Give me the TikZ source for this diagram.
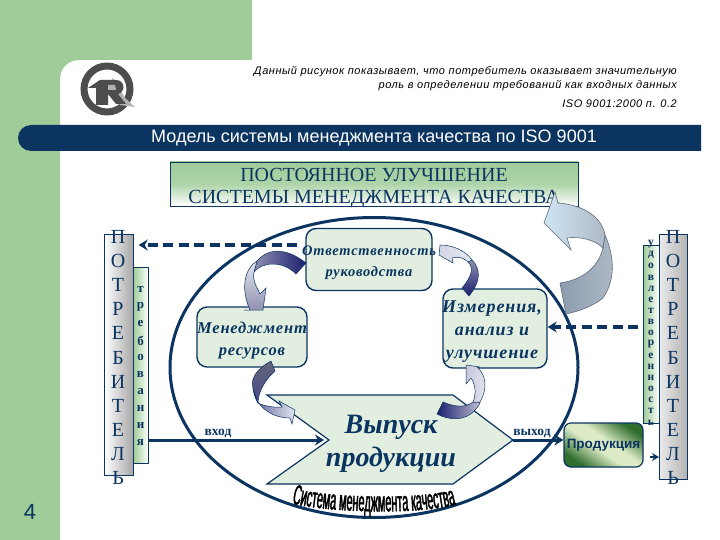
\documentclass[tikz,border=0pt]{standalone}
\usepackage{fontspec}
\usepackage{xcolor}
\usepackage{tikz}
\usetikzlibrary{calc,arrows.meta,positioning,decorations.text}
\setmainfont{Liberation Serif}
\newfontfamily\arialx{Liberation Sans}
\newfontfamily\notex[LetterSpace=5]{Liberation Sans}
\newfontfamily\widex[LetterSpace=5]{Liberation Serif}
\newfontfamily\wordx[FakeStretch=0.39,FakeBold=1.5]{Liberation Sans}
\definecolor{greenx}{HTML}{A0CC9A}
\definecolor{navyx}{HTML}{0B3560}
\definecolor{boxx}{HTML}{E2EEDF}
\definecolor{logox}{HTML}{4D4D4D}
\definecolor{deepx}{HTML}{1A1F6E}
\definecolor{midx}{HTML}{9090B0}
\definecolor{palex}{HTML}{E4E8F2}
\definecolor{skyx}{HTML}{CFE4F4}
\definecolor{steelx}{HTML}{8C9CAE}
\definecolor{prodx}{HTML}{2F6E2C}
\definecolor{prodl}{HTML}{DCEAC6}
\pgfdeclarehorizontalshading{prodsh}{100bp}{color(0bp)=(prodx); color(25bp)=(prodx); color(45bp)=(prodl); color(55bp)=(prodl); color(75bp)=(prodx); color(100bp)=(prodx)}
\tikzset{
  ar/.style={-{Stealth[length=9pt,width=11pt]},line width=3pt,navyx},
  dashar/.style={ar,line width=3.5pt,dash pattern=on 10pt off 5.5pt},
  box/.style={draw=navyx,line width=1.4pt,rounded corners=10pt,fill=boxx,inner sep=0pt},
  boxtext/.style={align=center,text=navyx,inner sep=0pt},
  col/.style={draw=navyx,line width=.7pt,inner sep=0pt,anchor=north west},
  rib/.style={draw=navyx,line width=.5pt},
  bigrib/.style={draw=steelx!70!black,line width=.6pt},
  letter/.style={text=navyx,inner sep=0pt}
}
\begin{document}
\begin{tikzpicture}[x=1pt,y=-1pt]
\useasboundingbox (0,0) rectangle (720,540);
\fill[white] (0,0) rectangle (720,540);
\fill[greenx] (0,0) -- (252,0) -- (252,60) -- (80,60) .. controls (68,60) and (60,68) .. (60,80) -- (60,540) -- (0,540) -- cycle;
\fill[navyx,rounded corners=13pt] (701,125) -- (18,125) -- (18,151) [sharp corners] -- (701,151) -- cycle;
\draw[logox,line width=7pt] (107,89) circle (23);
\fill[black!30] (113,78) -- (125,98) -- (135,107) -- (120,105) -- (107,87) -- cycle;
\fill[logox] (88,88) -- (100,80) -- (116,80) .. controls (125,80) and (126,92) .. (118,94) -- (126,104) -- (116,104) -- (108,94) -- (108,105) -- (96,105) -- (96,88) -- cycle;
\fill[black!30] (108,85) -- (115,85) -- (116,90) -- (108,90) -- cycle;
\node[font=\notex\fontsize{11}{14}\selectfont\itshape,align=right,anchor=north east,inner sep=0pt] (note) at (677,66) {Данный рисунок показывает, что потребитель оказывает значительную\\роль в определении требований как входных данных};
\node[font=\notex\fontsize{11}{14}\selectfont\itshape,inner sep=0pt,anchor=north east] (isoref) at (677,100) {ISO 9001:2000 п. 0.2};
\node[font=\arialx\fontsize{18}{20}\selectfont,text=white,inner sep=0pt] (title) at (374,138) {Модель системы менеджмента качества по ISO 9001};
\node[draw=navyx,line width=.7pt,minimum width=408pt,minimum height=44pt,top color=greenx,bottom color=white,middle color=greenx!85!white,inner sep=0pt] (improve) at (374,184) {};
\node[boxtext,font=\fontsize{20}{22}\selectfont] (improvetext) at (374,188) {ПОСТОЯННОЕ УЛУЧШЕНИЕ\\СИСТЕМЫ МЕНЕДЖМЕНТА КАЧЕСТВА};
\draw[navyx,line width=3pt] (374,367.5) ellipse (204 and 150);
\draw[rib,fill=boxx,draw=navyx,line width=1.2pt] (267,395) -- (453,395) -- (513,440) -- (453,484) -- (267,484) -- (329,440) -- cycle;
\coordinate (notchp) at (329,440);
\coordinate (tipp) at (513,440);
\node[box,minimum width=126pt,minimum height=62pt] (resp) at (369,259.5) {};
\node[box,minimum width=110pt,minimum height=60pt] (mgmt) at (252,337) {};
\node[box,minimum width=104pt,minimum height=79pt] (meas) at (495,328.5) {};
\node[boxtext,font=\widex\fontsize{14.5}{21}\selectfont\bfseries\itshape] (resptext) at (369,263) {Ответственность\\руководства};
\node[boxtext,font=\widex\fontsize{16.5}{22}\selectfont\bfseries\itshape] (mgmttext) at (252,341) {Менеджмент\\ресурсов};
\node[boxtext,font=\widex\fontsize{18}{23}\selectfont\bfseries\itshape] (meastext) at (492,332) {Измерения,\\анализ и\\улучшение};
\node[boxtext,font=\fontsize{28}{33}\selectfont\bfseries\itshape] (outtext) at (391,444) {Выпуск\\продукции};
\node[col,minimum width=29pt,minimum height=241pt,left color=white,right color=black!35] (custl) at (104,234) {};
\node[col,minimum width=15pt,minimum height=196pt,left color=greenx,right color=white] (reql) at (133,267) {};
\node[col,minimum width=16pt,minimum height=178pt,left color=greenx,right color=white] (satr) at (643,245) {};
\node[col,minimum width=28pt,minimum height=245pt,left color=black!8,right color=black!30] (custr) at (659,234) {};
\foreach \c [count=\i from 0] in {П,О,Т,Р,Е,Б,И,Т,Е,Л,Ь} {
  \node[letter,font=\fontsize{20}{20}\selectfont] (lc\i) at (118,{237+24.1*\i}) {\c};
  \node[letter,font=\fontsize{20}{20}\selectfont] (rc\i) at (673,{237+24.1*\i}) {\c};
}
\foreach \c [count=\i from 0] in {т,р,е,б,о,в,а,н,и,я} {
  \node[letter,font=\fontsize{13}{13}\selectfont\bfseries] (rq\i) at (140.5,{290+16.9*\i}) {\c};
}
\foreach \c [count=\i from 0] in {у,д,о,в,л,е,т,в,о,р,е,н,н,о,с,т,ь} {
  \node[letter,font=\fontsize{11.5}{11.5}\selectfont\bfseries] (st\i) at (651,{244+11.15*\i}) {\c};
}
\node[draw=navyx,line width=1.2pt,rounded corners=7pt,minimum width=79pt,minimum height=44pt,inner sep=0pt,shading=prodsh,shading angle=55,text=navyx,font=\arialx\fontsize{13.5}{14}\selectfont\bfseries] (prod) at (603.5,445) {Продукция};
\coordinate (dashl) at (200,245);
\coordinate (dashr) at (600,327);
\coordinate (smallar) at (650,457);
\draw[dashar,shorten <=8pt,shorten >=5pt] (dashl -| resp.west) -- (dashl -| custl.east);
\draw[dashar,shorten <=5pt] (dashr -| satr.west) -- (dashr -| meas.east);
\draw[ar,shorten >=5pt] (notchp -| reql.east) -- (notchp);
\draw[ar] (tipp) -- (tipp -| prod.west);
\draw[ar,-{Stealth[length=7pt,width=8pt]},line width=2.5pt,shorten <=6pt] (smallar -| prod.east) -- (smallar -| custr.west);
\node[font=\fontsize{13.5}{13.5}\selectfont\bfseries,text=navyx,inner sep=0pt] (intext) at (218,433) {вход};
\node[font=\fontsize{13.5}{13.5}\selectfont\bfseries,text=navyx,inner sep=0pt] (exittext) at (532,433) {выход};
\draw[rib,left color=midx,right color=deepx] (306,263) .. controls (292,252) and (272,244) .. (257,261) -- (254,272) .. controls (262,262) and (282,260) .. (296,274) -- cycle;
\draw[rib,top color=palex,bottom color=midx] (257,261) .. controls (245,268) and (240,288) .. (250,310) -- (244,310) -- (263,310) -- (266,288) -- (260,294) .. controls (256,285) and (252,280) .. (254,272) -- cycle;
\draw[rib,top color=midx!70!black,bottom color=deepx!80] (271,361) .. controls (258,368) and (250,378) .. (253,388) .. controls (254,395) and (256,400) .. (258,403) .. controls (258,392) and (265,380) .. (275,371) -- cycle;
\draw[rib,left color=deepx!70,right color=palex] (253,388) .. controls (255,405) and (270,418) .. (290,418) -- (292,424) -- (295,410) -- (279,401) -- (282,407) .. controls (272,408) and (262,405) .. (258,403) -- cycle;
\draw[rib,top color=midx,bottom color=deepx] (462,288) .. controls (472,276) and (474,268) .. (468,262) -- (472,260) .. controls (480,268) and (482,280) .. (469,296) -- cycle;
\draw[rib,left color=palex!80!midx,right color=palex] (472,260) .. controls (465,250) and (452,245) .. (440,245) -- (439,255) -- (453,263) -- (452,258) .. controls (458,256) and (464,258) .. (468,262) -- cycle;
\draw[rib,left color=deepx,right color=midx!60] (443,402) -- (437,414) .. controls (448,420) and (465,422) .. (475,410) .. controls (478,407) and (480,404) .. (480,402) -- (473,402) .. controls (465,408) and (455,407) .. (443,402) -- cycle;
\draw[rib,left color=midx!50,right color=palex] (480,402) .. controls (488,388) and (486,375) .. (477,367) -- (480,367) -- (466,365) -- (466,384) -- (471,378) .. controls (476,385) and (476,395) .. (473,402) -- cycle;
\draw[bigrib,left color=steelx,right color=steelx!70] (605,235) .. controls (616,260) and (614,282) .. (603,298) .. controls (593,306) and (580,311) .. (566,314) -- (560,283) .. controls (582,280) and (598,268) .. (603,248) -- cycle;
\draw[bigrib,left color=skyx,right color=steelx!70] (605,235) .. controls (602,218) and (585,205) .. (558,203) -- (555,192) -- (544,223) -- (571,250) -- (567,238) .. controls (580,236) and (595,240) .. (603,248) -- cycle;
\path[postaction={decorate,decoration={text along path,text align=center,text={|\wordx\fontsize{28}{28}\selectfont|Система менеджмента качества}}}] (289,503) .. controls (330,513) and (420,515) .. (459,504);
\node[font=\arialx\fontsize{22}{22}\selectfont,text=navyx,inner sep=0pt] (pagenum) at (30,512) {4};
\end{tikzpicture}
\end{document}
